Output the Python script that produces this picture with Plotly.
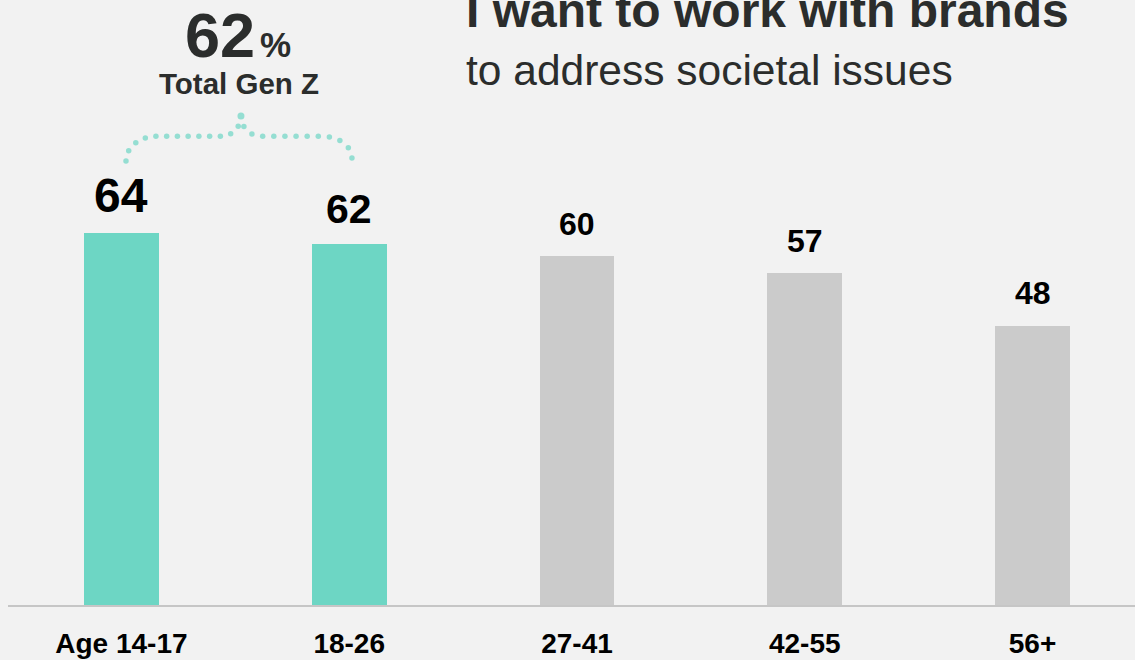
import numpy as np
import plotly.graph_objects as go

# ---- data -------------------------------------------------------------
categories = ["Age 14-17", "18-26", "27-41", "42-55", "56+"]
values = [64, 62, 60, 57, 48]
is_gen_z = [True, True, False, False, False]
gen_z_total = 62
gen_z_caption = "Total Gen Z"
headline = "I want to work with brands"
subheadline = "to address societal issues"

# ---- styling / geometry ----------------------------------------------
W, H = 1135, 660
M_L, M_R, M_T, M_B = 8, 0, 0, 55
X_RANGE = [-0.498, 4.450]
Y_RANGE = [0, 103.95]
BAR_WIDTH = 0.329

TEAL = "#6DD6C4"
GREY = "#CBCBCB"
BG = "#F2F2F2"
INK = "#2B2D2C"
FONT = "Liberation Sans, Arial, Helvetica, sans-serif"

PLOT_W = W - M_L - M_R
PLOT_H = H - M_T - M_B


def x_to_px(xd):
    return M_L + (xd - X_RANGE[0]) / (X_RANGE[1] - X_RANGE[0]) * PLOT_W


def px_to_x(px):
    return X_RANGE[0] + (np.asarray(px) - M_L) / PLOT_W * (X_RANGE[1] - X_RANGE[0])


def px_to_y(py):
    return Y_RANGE[1] - (np.asarray(py) - M_T) / PLOT_H * (Y_RANGE[1] - Y_RANGE[0])


def px_to_paper_x(px):
    return (px - M_L) / PLOT_W


def px_to_paper_y(py):
    return (M_T + PLOT_H - py) / PLOT_H


bar_colors = [TEAL if g else GREY for g in is_gen_z]
label_sizes = [48, 41, 32, 32, 32]

fig = go.Figure()
fig.add_trace(go.Bar(
    x=list(range(len(categories))),
    y=values,
    width=BAR_WIDTH,
    marker=dict(color=bar_colors, line=dict(width=0)),
    hoverinfo="skip",
))

# value labels above each bar (baseline ~20px above the bar top)
for i, (v, fs) in enumerate(zip(values, label_sizes)):
    fig.add_annotation(
        x=i, y=v, xref="x", yref="y",
        text=f"<b>{v}</b>",
        showarrow=False, xanchor="center", yanchor="bottom",
        yshift=19 - 0.212 * fs,
        font=dict(family=FONT, size=fs, color="#000000"),
    )

# ---- dotted curly brace grouping the Gen Z bars ------------------------
def brace_half(end, peak, level, rx, rm):
    """Dense pixel path from one end of the brace up to its peak."""
    ex, ey = end
    px_, py_ = peak
    s = 1 if px_ > ex else -1
    ry = ey - level
    t = np.linspace(0, np.pi / 2, 60)
    hook = np.column_stack([ex + s * rx * (1 - np.cos(t)), ey - ry * np.sin(t)])
    line_x = np.linspace(ex + s * rx, px_ - s * rm, 60)
    line = np.column_stack([line_x, np.full_like(line_x, level)])
    rmy = level - py_
    cx = px_ - s * rm
    tip = np.column_stack([cx + s * rm * np.sin(t), (level - rmy) + rmy * np.cos(t)])
    return np.vstack([hook, line, tip])


def resample(path, step):
    seg = np.hypot(*np.diff(path, axis=0).T)
    dist = np.concatenate([[0], np.cumsum(seg)])
    n = max(1, int(round(dist[-1] / step)))
    d = np.linspace(0, dist[-1], n + 1)
    return np.column_stack([np.interp(d, dist, path[:, 0]), np.interp(d, dist, path[:, 1])])


left_px = x_to_px(0.02)
right_px = x_to_px(1.012)
peak_px = (left_px + right_px) / 2 + 2
level_py = 136.3
left_end = (left_px, 161.0)
right_end = (right_px, 158.0)
peak = (peak_px, 116.0)

half_l = resample(brace_half(left_end, peak, level_py, 30, 20), 10.7)
half_r = resample(brace_half(right_end, peak, level_py, 30, 20), 10.7)
dots = np.vstack([half_l, half_r[:-1][::-1]])
dot_sizes = np.full(len(dots), 5.5)
dot_sizes[len(half_l) - 1] = 7

fig.add_trace(go.Scatter(
    x=px_to_x(dots[:, 0]), y=px_to_y(dots[:, 1]),
    mode="markers",
    marker=dict(size=dot_sizes, color=TEAL, line=dict(width=0)),
    hoverinfo="skip",
))

# ---- headline texts ----------------------------------------------------
def text_at(x_px, baseline_py, text, size, anchor="left", color=INK):
    fig.add_annotation(
        x=px_to_paper_x(x_px), y=px_to_paper_y(baseline_py - 0.3465 * size),
        xref="paper", yref="paper",
        text=text, showarrow=False, xanchor=anchor, yanchor="middle",
        font=dict(family=FONT, size=size, color=color),
    )


text_at(464, 27, f"<b>{headline}</b>", 48)
text_at(464, 85, subheadline, 42.5)
text_at(257, 57, f"<b>{gen_z_total}</b>", 63, anchor="right")
text_at(258, 57, "<b>%</b>", 35)
text_at(239, 94, f"<b>{gen_z_caption}</b>", 29.5, anchor="center")

fig.update_layout(
    width=W, height=H,
    margin=dict(l=M_L, r=M_R, t=M_T, b=M_B, pad=0),
    paper_bgcolor=BG, plot_bgcolor=BG,
    showlegend=False,
    bargap=0,
    xaxis=dict(
        range=X_RANGE,
        tickmode="array",
        tickvals=list(range(len(categories))),
        ticktext=categories,
        tickfont=dict(family=FONT, size=28, color="#000000", weight="bold"),
        ticks="", ticklabelstandoff=13,
        showgrid=False, zeroline=False,
        showline=True, linecolor="#C6C6C6", linewidth=1.5,
        automargin=False, fixedrange=True,
    ),
    yaxis=dict(
        range=Y_RANGE, visible=False, showgrid=False, zeroline=False,
        fixedrange=True,
    ),
)

fig.write_html("out.html", config={"displayModeBar": False})
